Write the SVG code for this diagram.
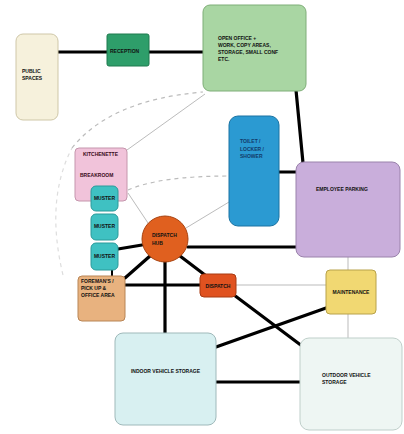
<svg xmlns="http://www.w3.org/2000/svg" width="404" height="434" viewBox="0 0 404 434">
<style>
text{font-family:"Liberation Sans",Arial,sans-serif;font-size:5px;font-weight:bold;fill:#111}
.k{stroke:#000;stroke-width:3.2;fill:none;stroke-linecap:round}
.t{stroke:#aaa;stroke-width:0.8;fill:none}
.d{stroke:#bbb;stroke-width:1.2;fill:none;stroke-dasharray:4 4}
.n{stroke-width:1}
</style>
<rect width="404" height="434" fill="#fff"/>
<g id="connectors">
<path class="d" d="M63,275 Q45,200 72,148" style="stroke:#ddd"/>
<path class="d" d="M72,148 Q110,100 203,92"/>
<path class="t" d="M127,150 L205,94"/>
<path class="d" d="M128,190 Q160,176 229,176"/>
<path class="t" d="M128,193 L150,226"/>
<path class="t" d="M186,228 L229,202"/>
<path class="t" d="M348,257 V270 M348,314 V338 M236,285 H326"/>
<path class="k" d="M58,52 H203"/>
<path class="k" d="M296,90 L303,163"/>
<path class="k" d="M279,172 H296"/>
<path class="k" d="M188,247 H296"/>
<path class="k" d="M118,249 L142,245"/>
<path class="k" d="M150,256 L125,278"/>
<path class="k" d="M165,261 V333"/>
<path class="k" d="M180,256 L205,275"/>
<path class="k" d="M125,285 H200"/>
<path class="k" d="M234,295 L302,346"/>
<path class="k" d="M216,347 L326,308"/>
<path class="k" d="M216,382 H300"/>
<path class="k" d="M112,270 V276" style="stroke-width:2"/>
</g>
<g id="public-spaces"><rect class="n" x="16" y="34" width="42" height="86" rx="7" fill="#f6f1dc" stroke="#cfc7a8"/><text x="22" y="73">PUBLIC</text><text x="22" y="80">SPACES</text></g>
<g id="reception"><rect class="n" x="107" y="34" width="42" height="32" rx="2" fill="#2e9e6a" stroke="#1f7a4e"/><text x="110" y="53">RECEPTION</text></g>
<g id="open-office"><rect class="n" x="203" y="5" width="103" height="86" rx="7" fill="#a9d6a3" stroke="#7fae78"/><text x="218" y="40">OPEN OFFICE +</text><text x="218" y="47">WORK, COPY AREAS,</text><text x="218" y="54">STORAGE, SMALL CONF</text><text x="218" y="61">ETC.</text></g>
<g id="toilet"><rect class="n" x="229" y="116" width="50" height="110" rx="9" fill="#2b9ad2" stroke="#1a73a3"/><text x="240" y="143" style="fill:#123a6a">TOILET /</text><text x="240" y="151" style="fill:#123a6a">LOCKER /</text><text x="240" y="158" style="fill:#123a6a">SHOWER</text></g>
<g id="employee-parking"><rect class="n" x="296" y="162" width="104" height="95" rx="8" fill="#c9aedb" stroke="#9a82ab"/><text x="316" y="191">EMPLOYEE PARKING</text></g>
<g id="kitchenette"><rect class="n" x="75" y="148" width="52" height="53" rx="4" fill="#f1c3da" stroke="#c596ad"/><text x="83" y="156" style="fill:#3a0a1a">KITCHENETTE</text><text x="80" y="177" style="fill:#3a0a1a">BREAKROOM</text></g>
<g id="muster-1"><rect class="n" x="91" y="186" width="27" height="25" rx="5" fill="#3fc1c2" stroke="#2a9a9a"/><text x="104.5" y="200" text-anchor="middle">MUSTER</text></g>
<g id="muster-2"><rect class="n" x="91" y="214" width="27" height="26" rx="5" fill="#3fc1c2" stroke="#2a9a9a"/><text x="104.5" y="228" text-anchor="middle">MUSTER</text></g>
<g id="muster-3"><rect class="n" x="91" y="243" width="27" height="27" rx="5" fill="#3fc1c2" stroke="#2a9a9a"/><text x="104.5" y="258" text-anchor="middle">MUSTER</text></g>
<g id="dispatch-hub"><circle class="n" cx="165" cy="239" r="23" fill="#e0601f" stroke="#a8420f"/><text x="152" y="237">DISPATCH</text><text x="152" y="245">HUB</text></g>
<g id="foremans"><rect class="n" x="78" y="276" width="47" height="45" rx="4" fill="#e8b27f" stroke="#b88556"/><text x="81" y="283">FOREMAN'S /</text><text x="81" y="290">PICK UP &amp;</text><text x="81" y="297">OFFICE AREA</text></g>
<g id="dispatch"><rect class="n" x="200" y="274" width="36" height="23" rx="4" fill="#e05220" stroke="#a83a12"/><text x="218" y="288" text-anchor="middle">DISPATCH</text></g>
<g id="maintenance"><rect class="n" x="326" y="270" width="50" height="44" rx="4" fill="#f1d872" stroke="#b8a24a"/><text x="351" y="294" text-anchor="middle">MAINTENANCE</text></g>
<g id="indoor-storage"><rect class="n" x="115" y="333" width="101" height="92" rx="8" fill="#d8f0f1" stroke="#9fb9ba"/><text x="165.5" y="373" text-anchor="middle">INDOOR VEHICLE STORAGE</text></g>
<g id="outdoor-storage"><rect class="n" x="300" y="338" width="102" height="92" rx="9" fill="#eef6f3" stroke="#bfcfca"/><text x="322" y="377">OUTDOOR VEHICLE</text><text x="322" y="384">STORAGE</text></g>
</svg>
